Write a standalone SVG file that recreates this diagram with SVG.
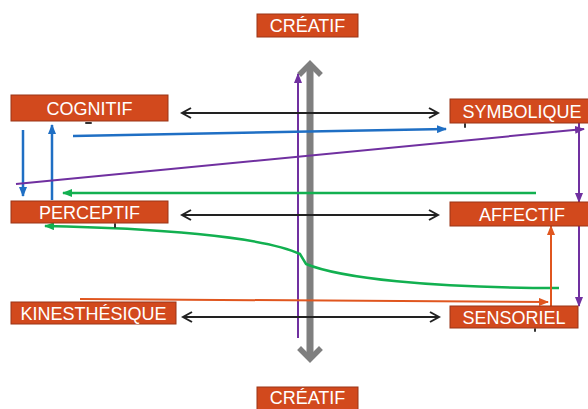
<svg xmlns="http://www.w3.org/2000/svg" width="588" height="409" viewBox="0 0 588 409">
  <defs>
    <style>
      .box rect { fill: #d2491d; stroke: #9a3416; stroke-width: 1; }
      .box text { fill: #ffffff; font-family: "Liberation Sans", Arial, sans-serif; font-size: 18px; text-anchor: middle; }
      .pair { stroke: #222222; stroke-width: 2; fill: none; }
      .tick { stroke: #333333; stroke-width: 2; stroke-linecap: round; }
      .blue { stroke: #1f6fc4; stroke-width: 2.5; fill: none; }
      .purple { stroke: #7030a0; stroke-width: 2; fill: none; }
      .green { stroke: #12b050; stroke-width: 2.5; fill: none; }
      .orange { stroke: #e0561f; stroke-width: 2; fill: none; }
      .axis { stroke: #7f7f7f; stroke-width: 7; fill: none; }
      .axis-head { stroke: #7f7f7f; stroke-width: 5.5; fill: none; stroke-linecap: square; }
    </style>
    <marker id="open" viewBox="0 0 12 12" refX="10" refY="6" markerWidth="12" markerHeight="12" markerUnits="userSpaceOnUse" orient="auto-start-reverse">
      <path d="M1,1 L10,6 L1,11" fill="none" stroke="#222222" stroke-width="2"/>
    </marker>
    <marker id="hBlue" viewBox="0 0 10 8" refX="9" refY="4" markerWidth="10" markerHeight="8" markerUnits="userSpaceOnUse" orient="auto-start-reverse">
      <path d="M0,0 L10,4 L0,8 Z" fill="#1f6fc4"/>
    </marker>
    <marker id="hPurple" viewBox="0 0 10 8" refX="9" refY="4" markerWidth="10" markerHeight="8" markerUnits="userSpaceOnUse" orient="auto-start-reverse">
      <path d="M0,0 L10,4 L0,8 Z" fill="#7030a0"/>
    </marker>
    <marker id="hGreen" viewBox="0 0 10 8" refX="9" refY="4" markerWidth="10" markerHeight="8" markerUnits="userSpaceOnUse" orient="auto-start-reverse">
      <path d="M0,0 L10,4 L0,8 Z" fill="#12b050"/>
    </marker>
    <marker id="hOrange" viewBox="0 0 10 8" refX="9" refY="4" markerWidth="10" markerHeight="8" markerUnits="userSpaceOnUse" orient="auto-start-reverse">
      <path d="M0,0 L10,4 L0,8 Z" fill="#e0561f"/>
    </marker>
  </defs>

  <rect width="588" height="409" fill="#ffffff"/>

  <!-- connectors -->
  <g id="connectors">
    <!-- vertical creative axis -->
    <g id="axis">
      <line class="axis" x1="310" y1="66" x2="310" y2="359"/>
      <polyline class="axis-head" points="301,73 310,64 319,73"/>
      <polyline class="axis-head" points="301,350 310,359 319,350"/>
    </g>
    <line class="purple" x1="298" y1="338" x2="298" y2="74" marker-end="url(#hPurple)"/>

    <!-- paired links -->
    <line class="pair" x1="182" y1="113" x2="438" y2="113" marker-start="url(#open)" marker-end="url(#open)"/>
    <line class="pair" x1="182" y1="215" x2="438" y2="215" marker-start="url(#open)" marker-end="url(#open)"/>
    <line class="pair" x1="183" y1="317" x2="439" y2="317" marker-start="url(#open)" marker-end="url(#open)"/>

    <!-- blue -->
    <line class="blue" x1="73" y1="136" x2="446" y2="129" marker-end="url(#hBlue)"/>
    <line class="blue" x1="23" y1="130" x2="23" y2="196" marker-end="url(#hBlue)"/>
    <line class="blue" x1="52" y1="200" x2="52" y2="125" marker-end="url(#hBlue)"/>

    <!-- purple -->
    <line class="purple" x1="16" y1="184" x2="584" y2="129" marker-end="url(#hPurple)"/>
    <line class="purple" x1="579" y1="123" x2="579" y2="202" marker-end="url(#hPurple)"/>
    <line class="purple" x1="579" y1="226" x2="579" y2="306" marker-end="url(#hPurple)"/>

    <!-- green -->
    <line class="green" x1="536" y1="193" x2="63" y2="193" marker-end="url(#hGreen)"/>
    <path class="green" d="M559,288 C430,288 340,278 306,264 L300,254 C262,236 150,228 45,226" marker-end="url(#hGreen)"/>

    <!-- orange -->
    <line class="orange" x1="80" y1="299" x2="548" y2="302" marker-end="url(#hOrange)"/>
    <line class="orange" x1="551" y1="306" x2="551" y2="226" marker-end="url(#hOrange)"/>

    <!-- small marks under boxes -->
    <line class="tick" x1="86" y1="123" x2="91" y2="123"/>
    <line class="tick" x1="115" y1="224" x2="115" y2="227"/>
    <line class="tick" x1="465" y1="124" x2="465" y2="127"/>
    <line class="tick" x1="535" y1="329" x2="535" y2="331"/>
  </g>

  <!-- nodes -->
  <g id="creatif-top" class="box">
    <rect x="257" y="14" width="101" height="23"/>
    <text x="307.5" y="32">CRÉATIF</text>
  </g>
  <g id="creatif-bottom" class="box">
    <rect x="257" y="387" width="101" height="23"/>
    <text x="307.5" y="404">CRÉATIF</text>
  </g>
  <g id="cognitif" class="box">
    <rect x="11" y="95" width="157" height="26"/>
    <text x="89.5" y="114.5">COGNITIF</text>
  </g>
  <g id="perceptif" class="box">
    <rect x="11" y="201" width="157" height="22"/>
    <text x="89.5" y="218.5">PERCEPTIF</text>
  </g>
  <g id="kinesthesique" class="box">
    <rect x="11" y="302" width="165" height="22"/>
    <text x="93.5" y="319.5">KINESTHÉSIQUE</text>
  </g>
  <g id="symbolique" class="box">
    <rect x="450" y="99" width="140" height="24"/>
    <text x="522" y="117.5">SYMBOLIQUE</text>
  </g>
  <g id="affectif" class="box">
    <rect x="450" y="202" width="140" height="24"/>
    <text x="522" y="220.5">AFFECTIF</text>
  </g>
  <g id="sensoriel" class="box">
    <rect x="450" y="306" width="128" height="22"/>
    <text x="514" y="323.5">SENSORIEL</text>
  </g>
</svg>
